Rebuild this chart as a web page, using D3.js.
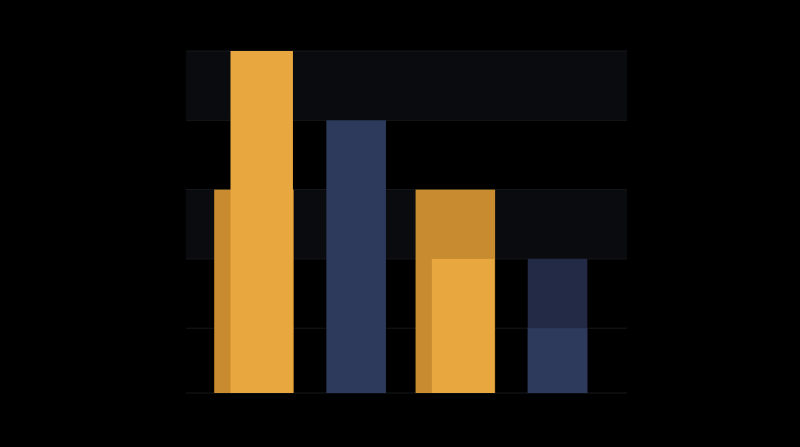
<!DOCTYPE html>
<html>
<head>
  <meta charset="UTF-8">
  <title>Bars</title>
  <script src="https://d3js.org/d3.v7.min.js"></script>
  <style>
    body {
      margin: 0;
      padding: 0;
      background-color: #000000;
      font-family: 'DejaVu Sans', sans-serif;
    }
    svg { display: block; }
  </style>
</head>
<body>
  <svg id="chart"></svg>
  <script>
    // chart values
    const categories = ["A", "B", "C", "D"];
    const backValues = [3, 0, 3, 2];
    const frontValues = [5, 4, 2, 1];
    const yTicks = [1, 2, 3, 4, 5];

    const W = 800, H = 447;
    const pLeft = 186, pRight = 627, pTop = 51, pBottom = 393;

    const svg = d3.select("#chart")
      .attr("width", W)
      .attr("height", H);

    const x = d3.scaleBand()
      .domain(categories)
      .range([pLeft, pRight])
      .paddingInner(0.2)
      .paddingOuter(0.29);

    const y = d3.scaleLinear()
      .domain([0, 5])
      .range([397.5, pTop]);

    // orange for odd categories, blue for even ones
    const backColor = ["#c98b2f", "#222a46", "#c98b2f", "#222a46"];
    const frontColor = ["#e8a83f", "#2d3a5c", "#e8a83f", "#2d3a5c"];

    // alternating bands
    const bands = [[4, 5], [2, 3]];
    svg.append("g").selectAll("rect")
      .data(bands)
      .enter().append("rect")
      .attr("x", pLeft)
      .attr("width", pRight - pLeft)
      .attr("y", d => y(d[1]))
      .attr("height", d => y(d[0]) - y(d[1]))
      .attr("fill", "#090b0e");

    // grid lines
    svg.append("g").selectAll("line")
      .data(yTicks)
      .enter().append("line")
      .attr("x1", pLeft)
      .attr("x2", pRight)
      .attr("y1", d => y(d))
      .attr("y2", d => y(d))
      .attr("stroke", "#17181b")
      .attr("stroke-width", 1);

    svg.append("line")
      .attr("x1", pLeft)
      .attr("x2", pRight)
      .attr("y1", pBottom)
      .attr("y2", pBottom)
      .attr("stroke", "#17181b");

    const bw = x.bandwidth();

    // back bars: orange take the full band, blue are inset
    svg.append("g").selectAll("rect")
      .data(categories)
      .enter().append("rect")
      .attr("x", (d, i) => i % 2 === 0 ? x(d) - 1 : x(d) + bw * 0.13)
      .attr("width", (d, i) => i % 2 === 0 ? bw - 1 : bw * 0.74)
      .attr("y", (d, i) => y(backValues[i]))
      .attr("height", (d, i) => backValues[i] > 0 ? pBottom - y(backValues[i]) : 0)
      .attr("fill", (d, i) => backColor[i]);

    // front bars: orange right aligned, blue inset
    svg.append("g").selectAll("rect")
      .data(categories)
      .enter().append("rect")
      .attr("x", (d, i) => i % 2 === 0 ? x(d) + bw * 0.19 : x(d) + bw * 0.13)
      .attr("width", (d, i) => i % 2 === 0 ? bw * 0.8 - 2 : bw * 0.74)
      .attr("y", (d, i) => y(frontValues[i]))
      .attr("height", (d, i) => pBottom - y(frontValues[i]))
      .attr("fill", (d, i) => frontColor[i]);
  </script>
</body>
</html>
